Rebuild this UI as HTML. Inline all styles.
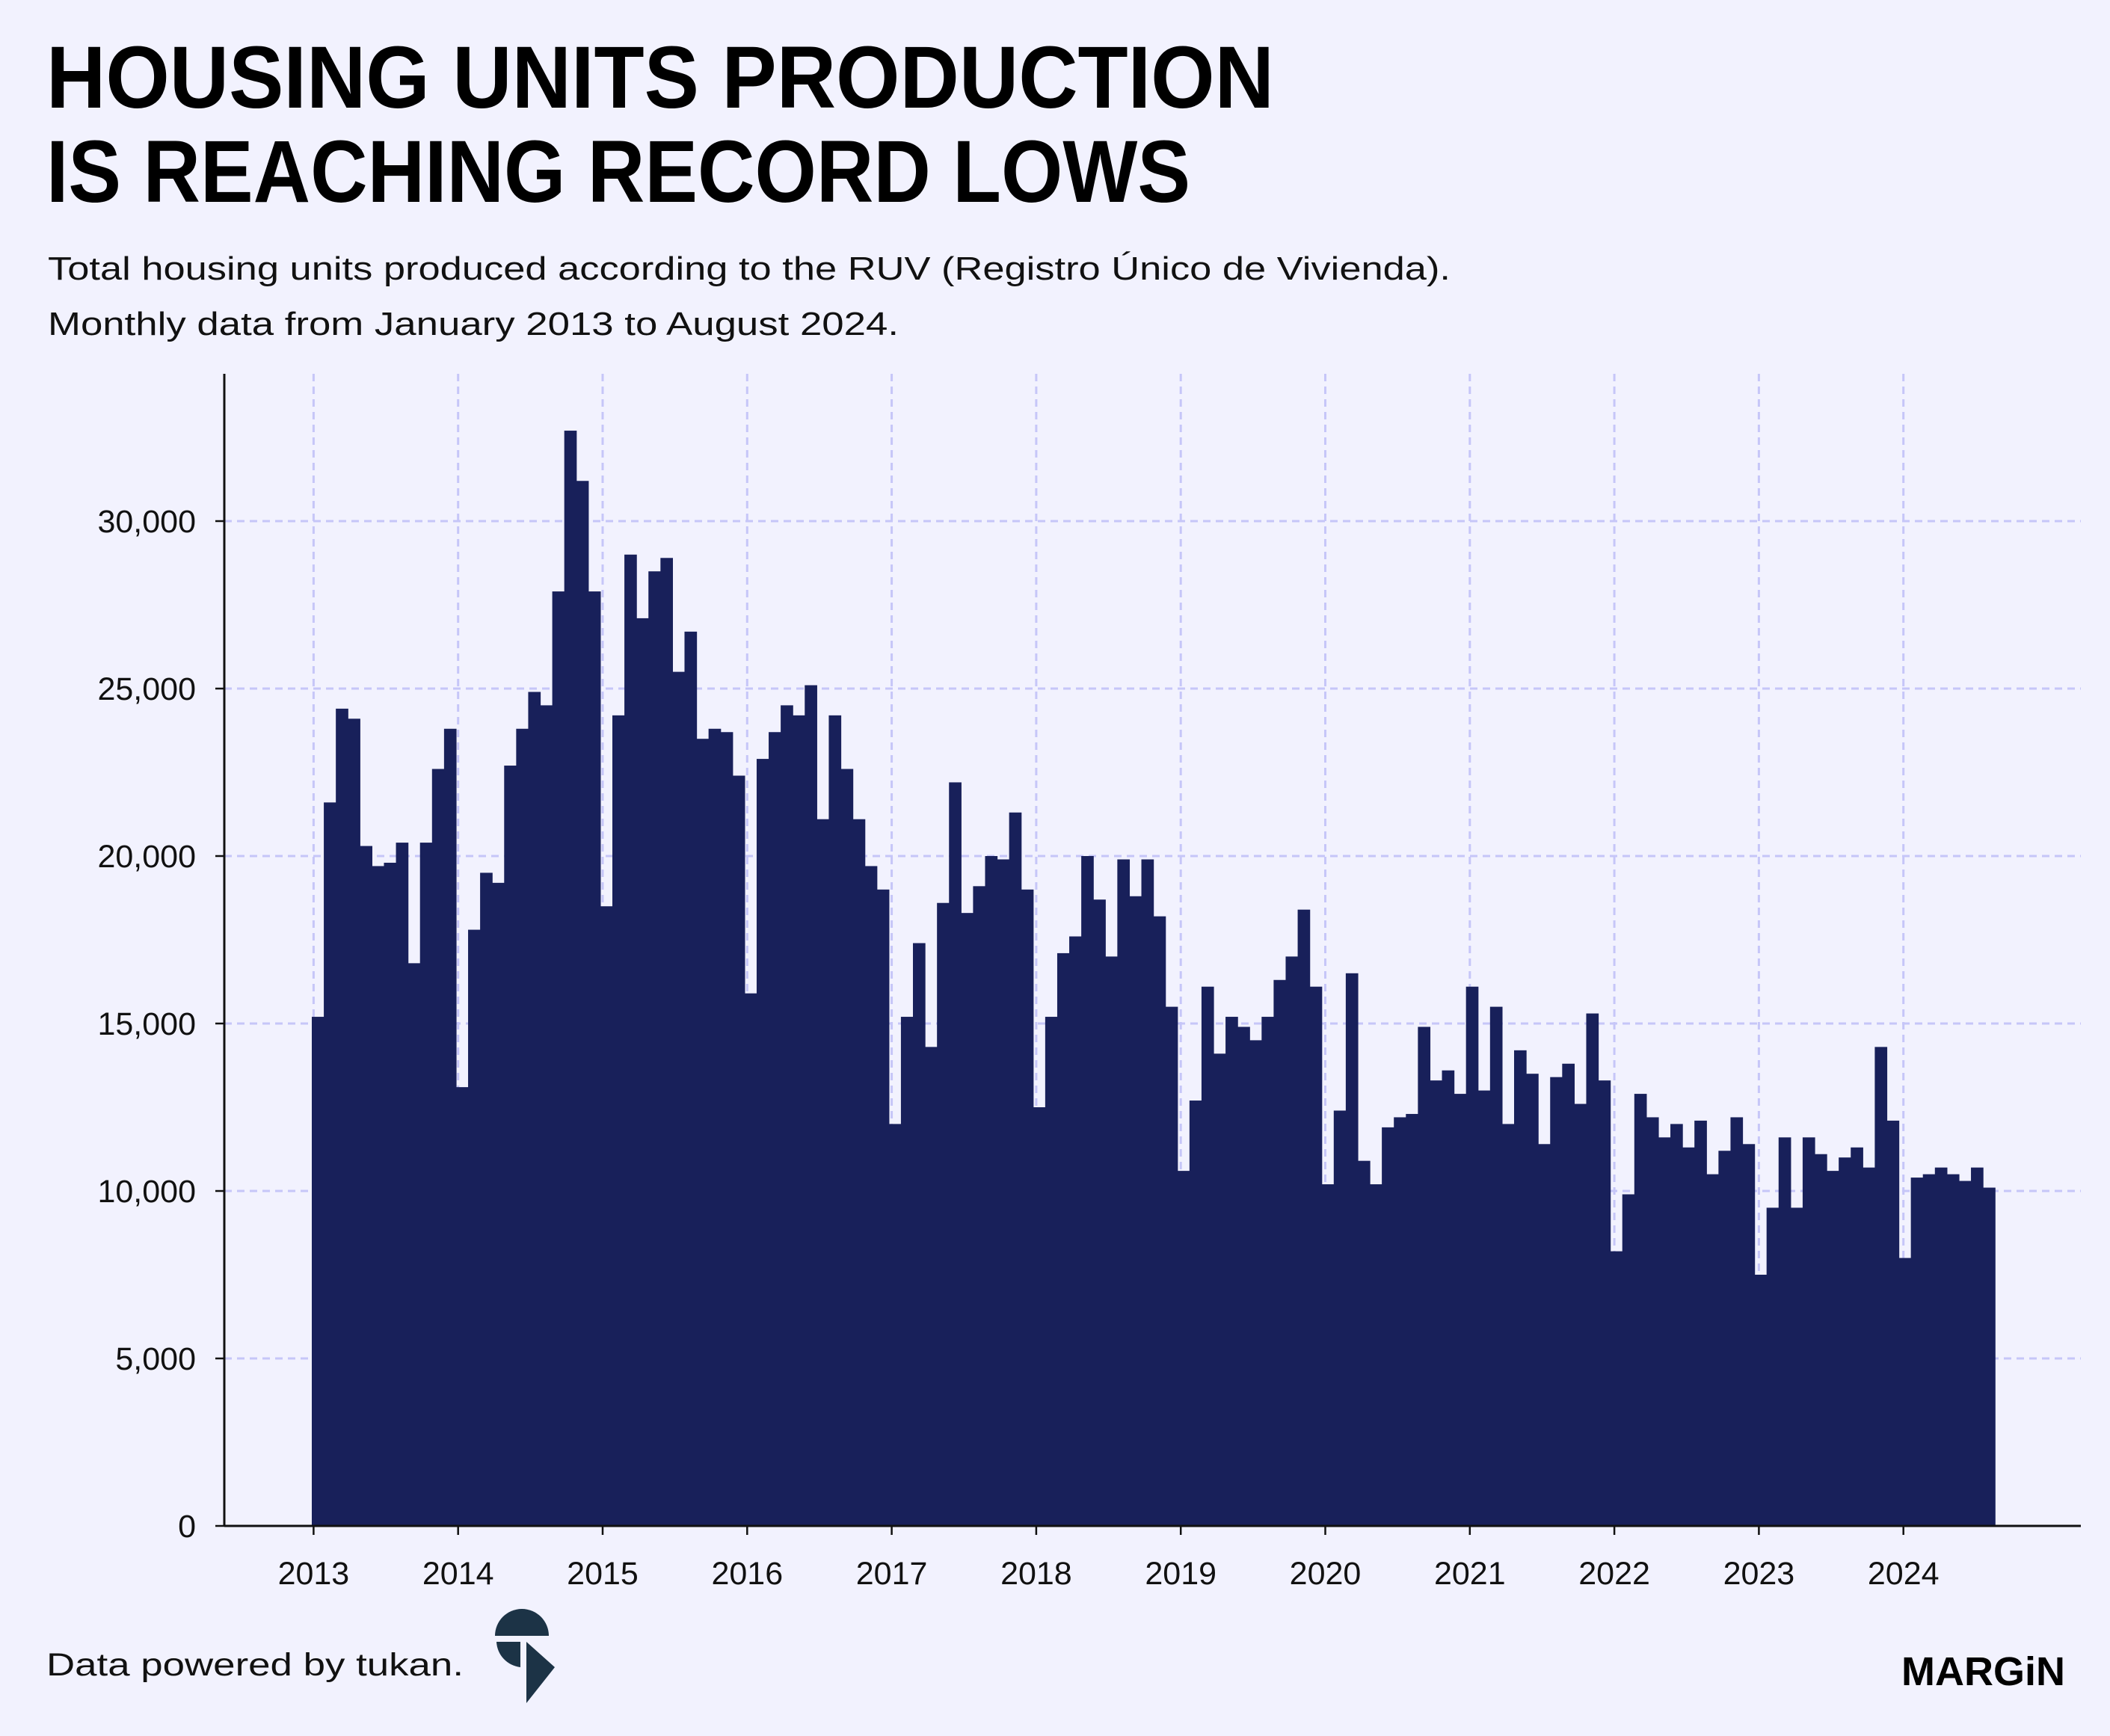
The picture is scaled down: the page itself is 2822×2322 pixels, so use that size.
<!DOCTYPE html>
<html><head><meta charset="utf-8"><style>
html,body{margin:0;padding:0;background:#f2f2fe;}
svg{display:block;}
text{font-family:"Liberation Sans",sans-serif;}
</style></head><body>
<svg id="chart" width="2822" height="2322" viewBox="0 0 2822 2322">
<rect x="0" y="0" width="2822" height="2322" fill="#f2f2fe"/>
<text x="62" y="144" font-size="118" font-weight="bold" fill="#000" textLength="1642" lengthAdjust="spacingAndGlyphs">HOUSING UNITS PRODUCTION</text>
<text x="62" y="270" font-size="118" font-weight="bold" fill="#000" textLength="1530" lengthAdjust="spacingAndGlyphs">IS REACHING RECORD LOWS</text>
<text x="64" y="374" font-size="44" fill="#111" textLength="1876" lengthAdjust="spacingAndGlyphs">Total housing units produced according to the RUV (Registro Único de Vivienda).</text>
<text x="64" y="448" font-size="44" fill="#111" textLength="1138" lengthAdjust="spacingAndGlyphs">Monthly data from January 2013 to August 2024.</text>
<g id="grid"></g>
<g id="bars"></g>
<g id="axes"></g>
<text x="62" y="2241" font-size="43" fill="#111" textLength="558" lengthAdjust="spacingAndGlyphs">Data powered by tukan.</text>
<g>
<path d="M662 2188 A36 36 0 0 1 734 2188 L698 2188 Z" fill="#1c3346"/>
<path d="M664 2196 L696 2196 L696 2230 A36 36 0 0 1 664 2196 Z" fill="#1c3346"/>
<path d="M704 2196 L742 2230 L704 2278 Z" fill="#1c3346"/>
</g>
<text x="2762" y="2254" font-size="54" font-weight="bold" fill="#000" text-anchor="end">MARGiN</text>
</svg>
<script>
const years = [2013,2014,2015,2016,2017,2018,2019,2020,2021,2022,2023,2024];
const yTicks = [0,5000,10000,15000,20000,25000,30000];
const values2013 = [15200,21600,24400,24100,20300,19700,19800,20400,16800,20400,22600,23800];
const values2014 = [13100,17800,19500,19200,22700,23800,24900,24500,27900,32700,31200,27900];
const values2015 = [18500,24200,29000,27100,28500,28900,25500,26700,23500,23800,23700,22400];
const values2016 = [15900,22900,23700,24500,24200,25100,21100,24200,22600,21100,19700,19000];
const values2017 = [12000,15200,17400,14300,18600,22200,18300,19100,20000,19900,21300,19000];
const values2018 = [12500,15200,17100,17600,20000,18700,17000,19900,18800,19900,18200,15500];
const values2019 = [10600,12700,16100,14100,15200,14900,14500,15200,16300,17000,18400,16100];
const values2020 = [10200,12400,16500,10900,10200,11900,12200,12300,14900,13300,13600,12900];
const values2021 = [16100,13000,15500,12000,14200,13500,11400,13400,13800,12600,15300,13300];
const values2022 = [8200,9900,12900,12200,11600,12000,11300,12100,10500,11200,12200,11400];
const values2023 = [7500,9500,11600,9500,11600,11100,10600,11000,11300,10700,14300,12100];
const values2024 = [8000,10400,10500,10700,10500,10300,10700,10100];
const values = [].concat(values2013,values2014,values2015,values2016,values2017,values2018,values2019,values2020,values2021,values2022,values2023,values2024);

const NS = "http://www.w3.org/2000/svg";
const x0 = 417, yearW = 193.3, monthW = 16.08;
const yBase = 2041, yPer = 224/5000;
const plotL = 300, plotR = 2783, plotT = 500;
const xScale = i => x0 + i*monthW;
const xYear = k => 419.4 + k*yearW;
const yScale = v => yBase - v*yPer;
function mk(tag, attrs, parent){const e=document.createElementNS(NS,tag);for(const k in attrs)e.setAttribute(k,attrs[k]);parent.appendChild(e);return e;}
const grid = document.getElementById('grid'), bars = document.getElementById('bars'), axes = document.getElementById('axes');

yTicks.forEach(t=>{
  const y=yScale(t);
  if(t>0){
    const g=mk('line',{x1:plotL,x2:plotR,y1:y,y2:y,stroke:'#c6c6f8','stroke-width':3,'stroke-dasharray':'10 7'},grid);
    
    
  }
  const tl=mk('text',{x:262,y:y+15,'font-size':43,'text-anchor':'end',fill:'#111'},axes);
  tl.textContent=t.toLocaleString('en-US');
  
  
  const tk=mk('line',{x1:288,x2:plotL,y1:y,y2:y,stroke:'#111','stroke-width':2.5},axes);
  
  
});
years.forEach((yr,k)=>{
  const x=xYear(k);
  const g=mk('line',{x1:x,x2:x,y1:plotT,y2:yBase,stroke:'#c6c6f8','stroke-width':3,'stroke-dasharray':'10 7'},grid);
  
  
  const tk=mk('line',{x1:x,x2:x,y1:yBase,y2:yBase+12,stroke:'#111','stroke-width':2.5},axes);
  
  
  const tl=mk('text',{x:x,y:2119,'font-size':43,'text-anchor':'middle',fill:'#111'},axes);
  tl.textContent=yr;
  
  
});
values.forEach((v,i)=>{
  const b=mk('rect',{x:xScale(i),y:yScale(v),width:monthW+0.6,height:yBase-yScale(v),fill:'#18205a'},bars);
  
  
});
const ya=mk('line',{x1:plotL,x2:plotL,y1:plotT,y2:yBase,stroke:'#111','stroke-width':3},axes);


const xa=mk('line',{x1:plotL,x2:plotR,y1:yBase,y2:yBase,stroke:'#111','stroke-width':3},axes);


</script>
</body></html>
